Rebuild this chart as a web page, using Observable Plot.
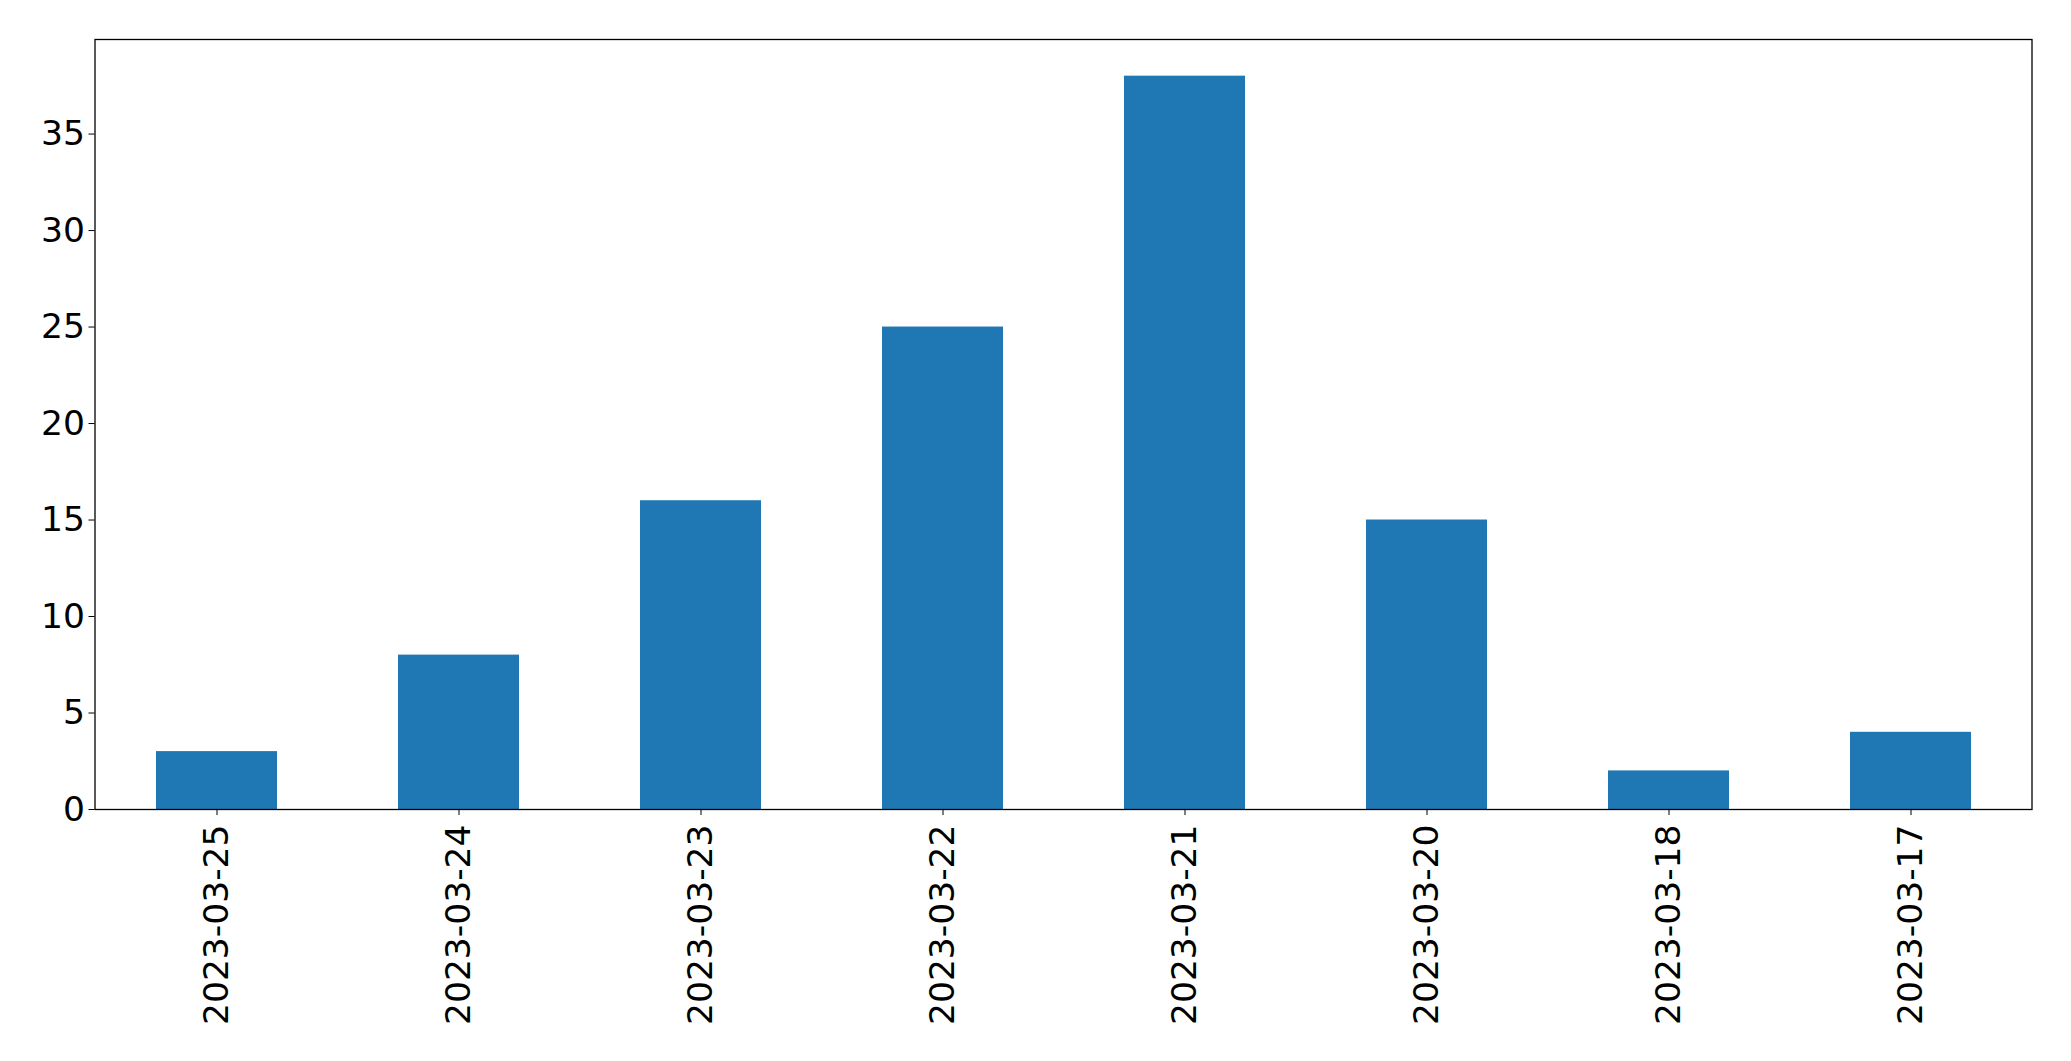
<!DOCTYPE html>
<html>
<head>
<meta charset="utf-8">
<script src="https://cdn.jsdelivr.net/npm/d3@7"></script>
<script src="https://cdn.jsdelivr.net/npm/@observablehq/plot@0.6"></script>
<style>
html, body { margin: 0; padding: 0; background: #fff; }
#chart svg { display: block; }
</style>
</head>
<body>
<div id="chart"></div>
<script>
const dates = ["2023-03-25", "2023-03-24", "2023-03-23", "2023-03-22", "2023-03-21", "2023-03-20", "2023-03-18", "2023-03-17"];
const counts = [3, 8, 16, 25, 38, 15, 2, 4];
const yTicks = [0, 5, 10, 15, 20, 25, 30, 35];

const data = dates.map((d, i) => ({date: d, count: counts[i]}));

const chart = Plot.plot({
  width: 2071,
  height: 1061,
  marginLeft: 94.5,
  marginRight: 39.5,
  marginTop: 39,
  marginBottom: 252,
  style: {fontFamily: "DejaVu Sans", fontSize: "34.5px", color: "black", background: "white"},
  x: {domain: dates, paddingInner: 0.5, paddingOuter: 0.25, label: null},
  y: {domain: [0, 39.9], label: null},
  marks: [
    Plot.barY(data, {x: "date", y: "count", fill: "#1f77b4"}),
    Plot.frame({stroke: "black", strokeWidth: 1.3}),
    Plot.axisY({ticks: yTicks, tickSize: 6, tickPadding: 4, label: null, fontSize: 34.5, tickFormat: d => String(d)}),
    Plot.axisX({tickSize: 6, tickPadding: 9, tickRotate: -90, label: null, fontSize: 34.5})
  ]
});
document.getElementById("chart").appendChild(chart);
</script>
</body>
</html>
